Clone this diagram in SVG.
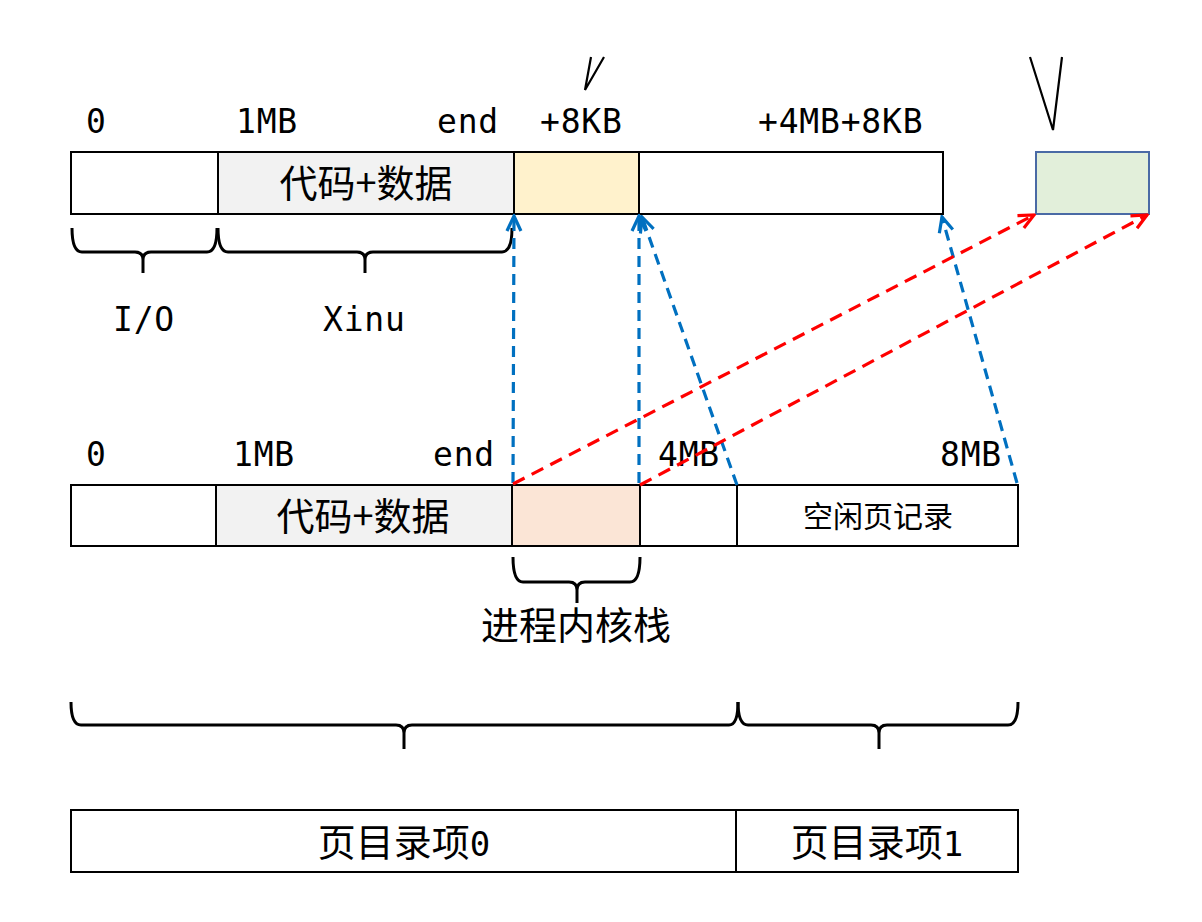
<svg xmlns="http://www.w3.org/2000/svg" width="1202" height="922" viewBox="0 0 1202 922">
<style>
.bar{stroke:#000;stroke-width:2}
.mono{font-family:"DejaVu Sans Mono","Liberation Mono",monospace;font-size:33px;letter-spacing:0.8px;fill:#000}
.cjk{font-family:"Noto Sans CJK SC","Noto Sans",sans-serif;fill:#000;text-anchor:middle}
.brace{fill:none;stroke:#000;stroke-width:3;stroke-linejoin:round}
.blue{fill:none;stroke:#0070C0;stroke-width:3.2;stroke-dasharray:11 7;marker-end:url(#ab)}
.red{fill:none;stroke:#FF0000;stroke-width:3.2;stroke-dasharray:13 8;marker-end:url(#ar)}
.vmark{fill:none;stroke:#000;stroke-width:2.2;stroke-linejoin:miter}
</style>
<defs>
<marker id="ab" viewBox="0 0 18 18" refX="16" refY="9" markerWidth="18" markerHeight="18" markerUnits="userSpaceOnUse" orient="auto">
<path d="M1,2 L16,9 L1,16" fill="none" stroke="#0070C0" stroke-width="3.2"/>
</marker>
<marker id="ar" viewBox="0 0 18 18" refX="16" refY="9" markerWidth="18" markerHeight="18" markerUnits="userSpaceOnUse" orient="auto">
<path d="M1,2 L16,9 L1,16" fill="none" stroke="#FF0000" stroke-width="3.2"/>
</marker>
</defs>
<rect width="1202" height="922" fill="#fff"/>

<g id="marks">
<polyline class="vmark" points="591,57 585,90 604,57"/>
<polyline class="vmark" points="1030,57 1053,130 1062,57"/>
</g>

<g id="top-labels">
<text class="mono" x="86" y="133">0</text>
<text class="mono" x="236" y="133">1MB</text>
<text class="mono" x="437" y="133">end</text>
<text class="mono" x="540" y="133">+8KB</text>
<text class="mono" x="758" y="133">+4MB+8KB</text>
</g>

<g id="top-bar">
<rect class="bar" x="71" y="152" width="147" height="62" fill="#fff"/>
<rect class="bar" x="218" y="152" width="296" height="62" fill="#f2f2f2"/>
<rect class="bar" x="514" y="152" width="125" height="62" fill="#fff2cc"/>
<rect class="bar" x="639" y="152" width="304" height="62" fill="#fff"/>
<text class="cjk" x="366" y="197" font-size="38">代码+数据</text>
</g>

<g id="green-box">
<rect x="1036" y="152" width="113" height="62" fill="#e2efda" stroke="#4a6aa5" stroke-width="2"/>
</g>

<g id="top-braces">
<path class="brace" d="M72,228 Q72,252 82,252 L135,252 Q143,252 143,260 L143,273 M143,260 Q143,252 151,252 L207,252 Q217,252 217,228"/>
<path class="brace" d="M218,228 Q218,252 228,252 L357,252 Q365,252 365,260 L365,273 M365,260 Q365,252 373,252 L502,252 Q512,252 512,228"/>
<text class="mono" x="113" y="331">I/O</text>
<text class="mono" x="323" y="331">Xinu</text>
</g>

<g id="bottom-labels">
<text class="mono" x="86" y="466">0</text>
<text class="mono" x="233" y="466">1MB</text>
<text class="mono" x="433" y="466">end</text>
<text class="mono" x="658" y="466">4MB</text>
<text class="mono" x="940" y="466">8MB</text>
</g>

<g id="bottom-bar">
<rect class="bar" x="71" y="485" width="145" height="61" fill="#fff"/>
<rect class="bar" x="216" y="485" width="296" height="61" fill="#f2f2f2"/>
<rect class="bar" x="512" y="485" width="128" height="61" fill="#fbe5d6"/>
<rect class="bar" x="640" y="485" width="97" height="61" fill="#fff"/>
<rect class="bar" x="737" y="485" width="281" height="61" fill="#fff"/>
<text class="cjk" x="363" y="530" font-size="38">代码+数据</text>
<text class="cjk" x="878" y="527" font-size="30">空闲页记录</text>
</g>

<g id="stack-brace">
<path class="brace" d="M513,557 Q513,582 523,582 L569,582 Q577,582 577,590 L577,603 M577,590 Q577,582 585,582 L630,582 Q640,582 640,557"/>
<text class="cjk" x="576" y="639" font-size="38">进程内核栈</text>
</g>

<g id="bottom-braces">
<path class="brace" d="M71,702 Q71,725 81,725 L396,725 Q404,725 404,733 L404,749 M404,733 Q404,725 412,725 L729,725 Q738,725 738,702"/>
<path class="brace" d="M738,702 Q738,725 748,725 L871,725 Q879,725 879,733 L879,749 M879,733 Q879,725 887,725 L1008,725 Q1018,725 1018,702"/>
</g>

<g id="pde-table">
<rect class="bar" x="71" y="810" width="665" height="62" fill="#fff"/>
<rect class="bar" x="736" y="810" width="282" height="62" fill="#fff"/>
<text class="cjk" x="404" y="856" font-size="38">页目录项<tspan font-family="DejaVu Sans Mono,monospace" font-size="34">0</tspan></text>
<text class="cjk" x="877" y="856" font-size="38">页目录项<tspan font-family="DejaVu Sans Mono,monospace" font-size="34">1</tspan></text>
</g>

<g id="connectors">
<line class="blue" x1="513" y1="483" x2="514" y2="216"/>
<line class="blue" x1="639" y1="483" x2="639" y2="216"/>
<line class="blue" x1="737" y1="485" x2="642" y2="217"/>
<line class="blue" x1="1017" y1="483" x2="942" y2="217"/>
<line class="red" x1="513" y1="484" x2="1034" y2="215"/>
<line class="red" x1="640" y1="485" x2="1147" y2="215"/>
</g>
</svg>
